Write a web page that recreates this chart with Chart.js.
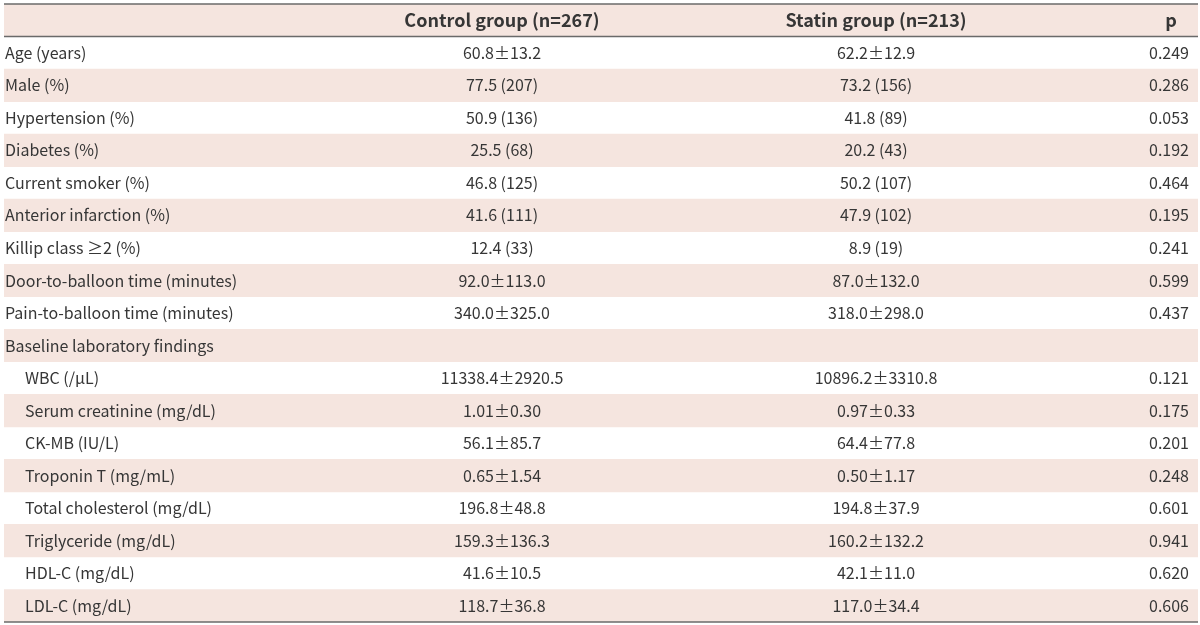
<!DOCTYPE html>
<html>
<head>
<meta charset="utf-8">
<script src="https://cdn.jsdelivr.net/npm/chart.js@4"></script>
<style>
  html, body { margin: 0; padding: 0; background: #fff; }
  #wrap { width: 1200px; height: 625px; }
</style>
</head>
<body>
<div id="wrap"><canvas id="tableChart"></canvas></div>
<script>
// table contents
const headers = ["", "Control group (n=267)", "Statin group (n=213)", "p"];
const rowLabels = [
  "Age (years)", "Male (%)", "Hypertension (%)", "Diabetes (%)", "Current smoker (%)",
  "Anterior infarction (%)", "Killip class \u22652 (%)", "Door-to-balloon time (minutes)",
  "Pain-to-balloon time (minutes)", "Baseline laboratory findings",
  "WBC (/\u03bcL)", "Serum creatinine (mg/dL)", "CK-MB (IU/L)", "Troponin T (mg/mL)",
  "Total cholesterol (mg/dL)", "Triglyceride (mg/dL)", "HDL-C (mg/dL)", "LDL-C (mg/dL)"
];
const controlValues = [
  "60.8\u00b113.2", "77.5 (207)", "50.9 (136)", "25.5 (68)", "46.8 (125)",
  "41.6 (111)", "12.4 (33)", "92.0\u00b1113.0", "340.0\u00b1325.0", "",
  "11338.4\u00b12920.5", "1.01\u00b10.30", "56.1\u00b185.7", "0.65\u00b11.54",
  "196.8\u00b148.8", "159.3\u00b1136.3", "41.6\u00b110.5", "118.7\u00b136.8"
];
const statinValues = [
  "62.2\u00b112.9", "73.2 (156)", "41.8 (89)", "20.2 (43)", "50.2 (107)",
  "47.9 (102)", "8.9 (19)", "87.0\u00b1132.0", "318.0\u00b1298.0", "",
  "10896.2\u00b13310.8", "0.97\u00b10.33", "64.4\u00b177.8", "0.50\u00b11.17",
  "194.8\u00b137.9", "160.2\u00b1132.2", "42.1\u00b111.0", "117.0\u00b134.4"
];
const pValues = [
  "0.249", "0.286", "0.053", "0.192", "0.464", "0.195", "0.241", "0.599", "0.437", "",
  "0.121", "0.175", "0.201", "0.248", "0.601", "0.941", "0.620", "0.606"
];
const sectionRow = "Baseline laboratory findings";

const allRows = ["header"].concat(rowLabels);
// every other row gets the tinted band, header included
const bands = allRows.map((r, i) => (i % 2 === 0 ? [0, 1194] : null));

const textColor = "#363636";
const fontFamily = "'Noto Sans CJK KR', 'Noto Sans', sans-serif";
const colX = { label: 1, indent: 21, control: 498, statin: 872, pHead: 1167, p: 1185 };

const tablePlugin = {
  id: "tableText",
  afterDatasetsDraw(chart) {
    const ctx = chart.ctx;
    const x = chart.scales.x;
    const y = chart.scales.y;
    const half = (y.getPixelForValue(1) - y.getPixelForValue(0)) / 2;
    ctx.save();
    // rules
    ctx.strokeStyle = "#6a6a6a";
    ctx.lineWidth = 1.5;
    [y.getPixelForValue(0) - half, y.getPixelForValue(0) + half,
     y.getPixelForValue(allRows.length - 1) + half].forEach(py => {
      ctx.beginPath();
      ctx.moveTo(x.getPixelForValue(0), py);
      ctx.lineTo(x.getPixelForValue(1194), py);
      ctx.stroke();
    });
    ctx.fillStyle = textColor;
    ctx.textBaseline = "middle";
    // header
    ctx.font = "bold 18px " + fontFamily;
    const hy = y.getPixelForValue(0);
    ctx.textAlign = "center";
    ctx.fillText(headers[1], x.getPixelForValue(colX.control), hy);
    ctx.fillText(headers[2], x.getPixelForValue(colX.statin), hy);
    ctx.fillText(headers[3], x.getPixelForValue(colX.pHead), hy);
    // body
    ctx.font = "16px " + fontFamily;
    const sec = rowLabels.indexOf(sectionRow);
    rowLabels.forEach((lab, i) => {
      const py = y.getPixelForValue(i + 1);
      ctx.textAlign = "left";
      ctx.fillText(lab, x.getPixelForValue(i > sec ? colX.indent : colX.label), py);
      ctx.textAlign = "center";
      ctx.fillText(controlValues[i], x.getPixelForValue(colX.control), py);
      ctx.fillText(statinValues[i], x.getPixelForValue(colX.statin), py);
      ctx.textAlign = "right";
      ctx.fillText(pValues[i], x.getPixelForValue(colX.p), py);
    });
    ctx.restore();
  }
};

new Chart(document.getElementById("tableChart"), {
  type: "bar",
  data: {
    labels: allRows,
    datasets: [{
      data: bands,
      backgroundColor: "#f5e5df",
      borderWidth: 0,
      barPercentage: 1,
      categoryPercentage: 1
    }]
  },
  options: {
    indexAxis: "y",
    responsive: true,
    maintainAspectRatio: false,
    animation: false,
    layout: { padding: { left: 4, right: 2, top: 4, bottom: 3 } },
    plugins: { legend: { display: false }, tooltip: { enabled: false } },
    scales: {
      x: { type: "linear", min: 0, max: 1194, display: false },
      y: { type: "category", display: false, offset: true }
    }
  },
  plugins: [tablePlugin]
});
</script>
</body>
</html>
